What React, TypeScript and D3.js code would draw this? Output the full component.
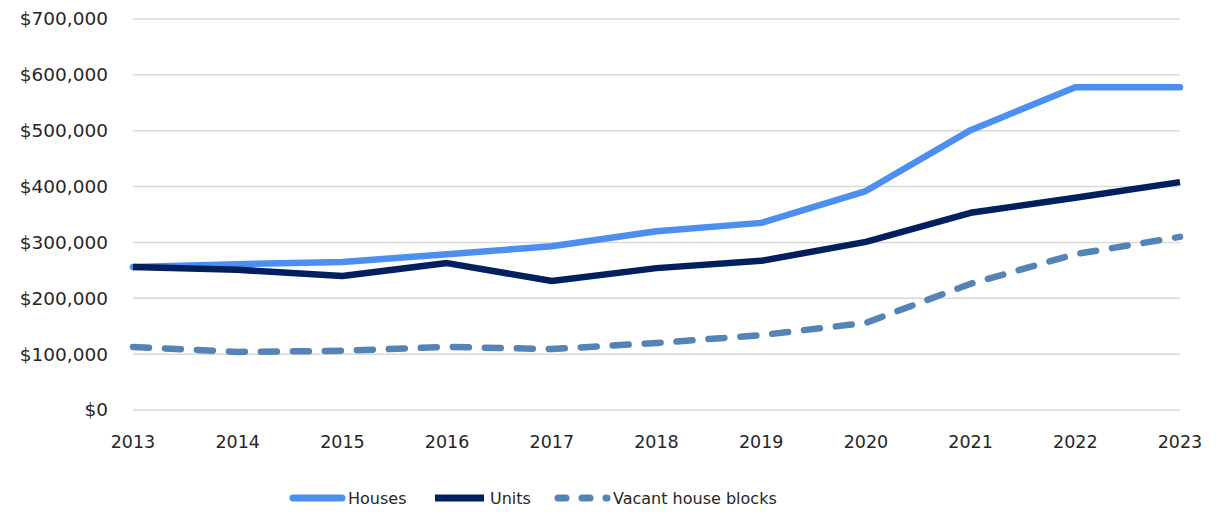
import React from "react";
import * as d3 from "d3";

const years = [2013, 2014, 2015, 2016, 2017, 2018, 2019, 2020, 2021, 2022, 2023];
const houses = [256000, 261000, 265000, 279000, 293000, 320000, 335000, 392000, 501000, 578000, 578000];
const units = [256000, 251000, 240000, 263000, 231000, 254000, 267000, 301000, 353000, 380000, 408000];
const vacant = [113000, 104000, 106000, 113000, 109000, 120000, 134000, 156000, 226000, 279000, 310000];
const yTicks = [0, 100000, 200000, 300000, 400000, 500000, 600000, 700000];

const series = [
  { name: "Houses", values: houses, color: "#4C8FF0", dash: null as string | null, cap: "round" },
  { name: "Units", values: units, color: "#001F5E", dash: null as string | null, cap: "butt" },
  { name: "Vacant house blocks", values: vacant, color: "#5384B5", dash: "16 16", cap: "round" },
];

const W = 1221, H = 512;
const left = 133, right = 1180, top = 19, bottom = 410;
const font = "'DejaVu Sans', sans-serif";

export default function App() {
  const x = d3.scaleLinear().domain([2013, 2023]).range([left, right]);
  const y = d3.scaleLinear().domain([0, 700000]).range([bottom, top]);
  const fmt = (v: number) => "$" + d3.format(",")(v);
  const line = d3.line<number>().x((_, i) => x(years[i])).y((d) => y(d));
  const legendX = [290, 432, 555];
  return (
    <svg width={W} height={H} style={{ position: "absolute", left: 0, top: 0 }}>
      <rect width={W} height={H} fill="#fff" />
      {yTicks.map((t) => (
        <g key={t}>
          <line x1={left} x2={right} y1={y(t)} y2={y(t)} stroke="#d9d9d9" strokeWidth={1.5} />
          <text x={108} y={y(t)} dy="0.35em" textAnchor="end" fontFamily={font} fontSize={18.5} fill="#262626">
            {fmt(t)}
          </text>
        </g>
      ))}
      {years.map((yr) => (
        <text key={yr} x={x(yr)} y={448} textAnchor="middle" fontFamily={font} fontSize={17.5} fill="#262626">
          {yr}
        </text>
      ))}
      {series.map((s) => (
        <path key={s.name} d={line(s.values) || ""} fill="none" stroke={s.color} strokeWidth={6.5}
          strokeDasharray={s.dash || undefined} strokeLinecap={s.cap as any} strokeLinejoin="round" />
      ))}
      {series.map((s, i) => (
        <g key={s.name}>
          <line x1={legendX[i] + 3} x2={legendX[i] + 52} y1={498} y2={498} stroke={s.color} strokeWidth={7}
            strokeLinecap={s.cap as any} strokeDasharray={s.dash ? "8 16" : undefined} />
          <text x={legendX[i] + 58} y={498} dy="0.35em" fontFamily={font} fontSize={16} fill="#262626">
            {s.name}
          </text>
        </g>
      ))}
    </svg>
  );
}
